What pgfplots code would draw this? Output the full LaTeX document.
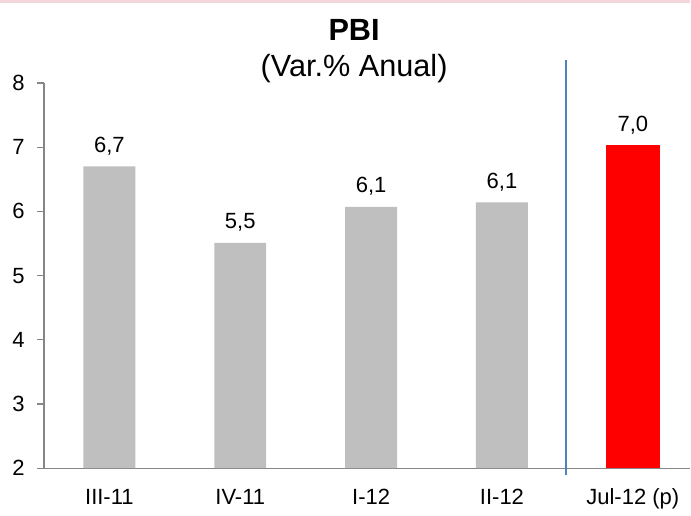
\documentclass[border=0pt]{standalone}
\usepackage{fontspec}
\setmainfont{Liberation Sans}
\usepackage{pgfplots}
\pgfplotsset{compat=1.18}
\definecolor{bargray}{RGB}{191,191,191}
\definecolor{axgray}{RGB}{134,134,134}
\definecolor{vblue}{RGB}{79,129,189}
\definecolor{pinkband}{RGB}{242,214,218}
\begin{document}
\begin{tikzpicture}
\begin{axis}[
  scale only axis,
  width=485pt, height=289pt,
  xmin=-0.5, xmax=4.44,
  ymin=2, ymax=8,
  clip=false,
  axis x line=bottom, axis y line=left,
  axis line style={axgray, line width=0.9pt, -},
  ytick={2,3,4,5,6,7,8},
  xtick={0,1,2,3,4},
  xticklabels={III-11,IV-11,I-12,II-12,Jul-12 (p)},
  major x tick style={draw=none},
  extra x ticks={-0.5,0.5,1.5,2.5,3.5},
  extra x tick labels={},
  extra x tick style={major tick length=6pt, tick style={axgray, line width=0.9pt}, tick align=outside},
  tick align=outside,
  major tick length=5pt,
  tick style={axgray, line width=0.9pt},
  ticklabel style={font=\fontsize{16.5}{19}\selectfont},
  /pgf/number format/assume math mode=true,
  yticklabel style={xshift=-6pt},
  xticklabel style={yshift=-6pt, text height=13pt, text depth=4pt},
  ybar, bar width=39pt,
  nodes near coords,
  every node near coord/.append style={font=\fontsize{16.5}{19}\selectfont, black, yshift=5pt,
    /pgf/number format/.cd, fixed, precision=1, zerofill, use comma},
]
\addplot[fill=bargray, draw=none, bar shift=0pt] coordinates {(0,6.70) (1,5.51) (2,6.07) (3,6.14)};
\addplot[fill=red, draw=none, bar shift=0pt, bar width=41pt] coordinates {(4,7.03)};
\draw[vblue, line width=1pt] (axis cs:3.49,1.89) -- (axis cs:3.49,8.36);
\node[font=\bfseries\fontsize{23}{27}\selectfont] at (axis cs:1.87,8.83) {PBI};
\node[font=\fontsize{23}{27}\selectfont] at (axis cs:1.87,8.22) {(Var.\% Anual)};
\fill[pinkband] (axis cs:-0.836,9.293) rectangle (axis cs:4.44,9.24);
\path (axis cs:-0.836,1.345) rectangle (axis cs:4.44,9.293);
\end{axis}
\end{tikzpicture}
\end{document}
